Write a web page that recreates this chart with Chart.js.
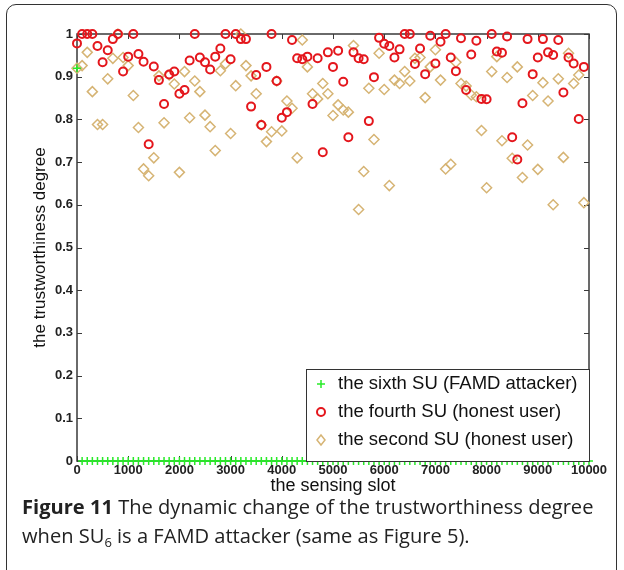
<!DOCTYPE html>
<html>
<head>
<meta charset="utf-8">
<script src="https://cdn.jsdelivr.net/npm/chart.js@4/dist/chart.umd.min.js"></script>
<style>
  html, body { margin: 0; padding: 0; background: #fff; overflow: hidden; width: 624px; height: 570px; }
  #frame { position: absolute; left: 6px; top: 4px; width: 609px; height: 620px; border: 1.5px solid #333; border-radius: 10px; }
  #chart { position: absolute; left: 0; top: 0; }
  #caption { position: absolute; left: 22px; top: 492px; width: 600px; font-family: "Open Sans", sans-serif; font-size: 20.1px; line-height: 29px; color: #222; white-space: nowrap; }
  #caption b { font-weight: 700; }
  #caption sub { font-size: 13px; line-height: 0; vertical-align: -4px; }
</style>
</head>
<body>
<div id="frame"></div>
<canvas id="chart" width="624" height="500"></canvas>
<div id="caption"><b>Figure 11</b> The dynamic change of the trustworthiness degree<br>when SU<sub>6</sub> is a FAMD attacker (same as Figure 5).</div>
<script>
// sensing slots (every 100)
const slots = [
    0,  100,  200,  300,  400,  500,  600,  700,  800,  900,
 1000, 1100, 1200, 1300, 1400, 1500, 1600, 1700, 1800, 1900,
 2000, 2100, 2200, 2300, 2400, 2500, 2600, 2700, 2800, 2900,
 3000, 3100, 3200, 3300, 3400, 3500, 3600, 3700, 3800, 3900,
 4000, 4100, 4200, 4300, 4400, 4500, 4600, 4700, 4800, 4900,
 5000, 5100, 5200, 5300, 5400, 5500, 5600, 5700, 5800, 5900,
 6000, 6100, 6200, 6300, 6400, 6500, 6600, 6700, 6800, 6900,
 7000, 7100, 7200, 7300, 7400, 7500, 7600, 7700, 7800, 7900,
 8000, 8100, 8200, 8300, 8400, 8500, 8600, 8700, 8800, 8900,
 9000, 9100, 9200, 9300, 9400, 9500, 9600, 9700, 9800, 9900,
10000];

// the sixth SU (FAMD attacker)
const sixthSU = [
 0.92, 0, 0, 0, 0, 0, 0, 0, 0, 0,
 0, 0, 0, 0, 0, 0, 0, 0, 0, 0,
 0, 0, 0, 0, 0, 0, 0, 0, 0, 0,
 0, 0, 0, 0, 0, 0, 0, 0, 0, 0,
 0, 0, 0, 0, 0, 0, 0, 0, 0, 0,
 0, 0, 0, 0, 0, 0, 0, 0, 0, 0,
 0, 0, 0, 0, 0, 0, 0, 0, 0, 0,
 0, 0, 0, 0, 0, 0, 0, 0, 0, 0,
 0, 0, 0, 0, 0, 0, 0, 0, 0, 0,
 0, 0, 0, 0, 0, 0, 0, 0, 0, 0,
 0];

// the fourth SU (honest user)
const fourthSU = [
 0.978, 1.0, 1.0, 1.0, 0.972, 0.934, 0.962, 0.988, 1.0, 0.912,
 0.947, 1.0, 0.953, 0.935, 0.742, 0.924, 0.892, 0.836, 0.905, 0.912,
 0.860, 0.869, 0.938, 1.0, 0.945, 0.934, 0.917, 0.947, 0.966, 1.0,
 0.941, 1.0, 0.988, 0.988, 0.830, 0.904, 0.787, 0.923, 1.0, 0.890,
 0.804, 0.817, 0.986, 0.943, 0.941, 0.947, 0.836, 0.943, 0.723, 0.957,
 0.923, 0.961, 0.888, 0.758, 0.957, 0.943, 0.941, 0.796, 0.899, 0.991,
 0.977, 0.972, 0.945, 0.964, 1.0, 1.0, 0.930, 0.966, 0.906, 0.996,
 0.931, 0.982, 1.0, 0.945, 0.913, 0.990, 0.869, 0.952, 0.984, 0.848,
 0.847, 1.0, 0.959, 0.956, 0.994, 0.758, 0.706, 0.838, 0.988, 0.906,
 0.945, 0.988, 0.957, 0.951, 0.986, 0.863, 0.945, 0.931, 0.801, 0.923,
 null];

// the second SU (honest user)
const secondSU = [
 0.92, 0.926, 0.957, 0.865, 0.788, 0.788, 0.895, 0.943, 1.0, 0.945,
 0.926, 0.856, 0.781, 0.684, 0.668, 0.710, 0.902, 0.792, 0.904, 0.883,
 0.676, 0.912, 0.804, 0.890, 0.865, 0.810, 0.783, 0.727, 0.914, 0.930,
 0.767, 0.879, 1.0, 0.926, 0.902, 0.860, 0.787, 0.748, 0.771, 0.890,
 0.773, 0.843, 0.826, 0.710, 0.986, 0.923, 0.860, 0.848, 0.884, 0.860,
 0.809, 0.834, 0.822, 0.817, 0.973, 0.589, 0.678, 0.873, 0.753, 0.955,
 0.870, 0.645, 0.892, 0.884, 0.912, 0.890, 0.943, 0.945, 0.851, 0.923,
 0.963, 0.892, 0.684, 0.695, 0.934, 0.884, 0.878, 0.857, 0.853, 0.774,
 0.640, 0.912, 0.947, 0.750, 0.898, 0.709, 0.923, 0.664, 0.740, 0.856,
 0.683, 0.886, 0.843, 0.600, 0.895, 0.711, 0.955, 0.884, 0.904, 0.605,
 null];

const seriesNames = ['the sixth SU (FAMD attacker)', 'the fourth SU (honest user)', 'the second SU (honest user)'];

const GREEN = 'rgb(40,235,40)';
const RED = 'rgb(228,22,28)';
const TAN = 'rgb(214,180,116)';
const FONT = '"Liberation Sans", Arial, sans-serif';

const toPoints = vals => slots.map((s, i) => ({x: s, y: vals[i]}));

// inward ticks, box and legend like the matlab figure
const boxPlugin = {
    id: 'box',
    beforeDatasetsDraw(chart) {
        const {ctx, chartArea: a, scales: {x, y}} = chart;
        ctx.save();
        ctx.strokeStyle = '#3a3a3a';
        ctx.lineWidth = 1.5;
        ctx.strokeRect(a.left, a.top, a.right - a.left, a.bottom - a.top);
        ctx.lineWidth = 1;
        ctx.beginPath();
        x.ticks.forEach(t => {
            let px = Math.round(x.getPixelForValue(t.value)) + 0.5;
            ctx.moveTo(px, a.bottom); ctx.lineTo(px, a.bottom - 5);
            ctx.moveTo(px, a.top); ctx.lineTo(px, a.top + 5);
        });
        y.ticks.forEach(t => {
            let py = Math.round(y.getPixelForValue(t.value)) + 0.5;
            ctx.moveTo(a.left, py); ctx.lineTo(a.left + 5, py);
            ctx.moveTo(a.right, py); ctx.lineTo(a.right - 5, py);
        });
        ctx.stroke();
        ctx.restore();
    },
    afterDatasetsDraw(chart) {
        const {ctx, chartArea: a} = chart;
        const w = 283, h = 92;
        const left = a.right - w, top = a.bottom - h;
        ctx.save();
        ctx.fillStyle = '#fff';
        ctx.fillRect(left, top, w, h);
        ctx.strokeStyle = '#333';
        ctx.lineWidth = 1;
        ctx.strokeRect(left + 0.5, top + 0.5, w, h);

        const rows = [top + 15, top + 43, top + 71];
        const mx = left + 15;
        ctx.lineWidth = 1.5;
        // cross
        ctx.strokeStyle = GREEN;
        ctx.beginPath();
        ctx.moveTo(mx - 4, rows[0]); ctx.lineTo(mx + 4, rows[0]);
        ctx.moveTo(mx, rows[0] - 4); ctx.lineTo(mx, rows[0] + 4);
        ctx.stroke();
        // circle
        ctx.strokeStyle = RED;
        ctx.lineWidth = 2;
        ctx.beginPath();
        ctx.arc(mx, rows[1], 4, 0, Math.PI * 2);
        ctx.stroke();
        // diamond
        ctx.strokeStyle = TAN;
        ctx.lineWidth = 1.5;
        ctx.beginPath();
        ctx.moveTo(mx, rows[2] - 5); ctx.lineTo(mx + 4, rows[2]);
        ctx.lineTo(mx, rows[2] + 5); ctx.lineTo(mx - 4, rows[2]);
        ctx.closePath();
        ctx.stroke();

        ctx.fillStyle = '#111';
        ctx.font = '18.5px ' + FONT;
        ctx.textBaseline = 'middle';
        seriesNames.forEach((name, i) => ctx.fillText(name, left + 32, rows[i]));
        ctx.restore();
    }
};

const ctx = document.getElementById('chart').getContext('2d');

const chart = new Chart(ctx, {
    type: 'scatter',
    data: {
        datasets: [
            {
                label: seriesNames[0],
                data: toPoints(sixthSU),
                pointStyle: 'cross',
                pointRadius: 4,
                borderColor: GREEN,
                borderWidth: 1.5,
                clip: false
            },
            {
                label: seriesNames[1],
                data: toPoints(fourthSU),
                pointStyle: 'circle',
                pointRadius: 4,
                borderColor: RED,
                backgroundColor: 'rgba(0,0,0,0)',
                borderWidth: 2,
                clip: false
            },
            {
                label: seriesNames[2],
                data: toPoints(secondSU),
                pointStyle: 'rectRot',
                pointRadius: 5,
                borderColor: TAN,
                backgroundColor: 'rgba(0,0,0,0)',
                borderWidth: 1.5,
                clip: false
            }
        ]
    },
    options: {
        responsive: false,
        animation: false,
        layout: { padding: { top: 34, right: 35, left: 0, bottom: 0 } },
        plugins: {
            legend: { display: false },
            tooltip: { enabled: false }
        },
        scales: {
            x: {
                type: 'linear',
                min: 0,
                max: 10000,
                afterFit: s => { s.height = 39; },
                grid: { display: false, drawTicks: false },
                border: { display: false },
                ticks: {
                    stepSize: 1000,
                    autoSkip: false,
                    maxRotation: 0,
                    padding: 2,
                    color: '#222',
                    font: { family: FONT, size: 13, weight: 'bold' },
                    callback: v => String(v)
                },
                title: {
                    display: true,
                    text: 'the sensing slot',
                    color: '#111',
                    padding: { top: 0, bottom: 3 },
                    font: { family: FONT, size: 18 }
                }
            },
            y: {
                min: 0,
                max: 1,
                afterFit: s => { s.width = 77; },
                grid: { display: false, drawTicks: false },
                border: { display: false },
                ticks: {
                    stepSize: 0.1,
                    padding: 4,
                    color: '#222',
                    font: { family: FONT, size: 13, weight: 'bold' },
                    callback: v => String(Math.round(v * 10) / 10)
                },
                title: {
                    display: true,
                    text: 'the trustworthiness degree',
                    color: '#111',
                    padding: { top: 30, bottom: 0 },
                    font: { family: FONT, size: 17 }
                }
            }
        }
    },
    plugins: [boxPlugin]
});
</script>
</body>
</html>
